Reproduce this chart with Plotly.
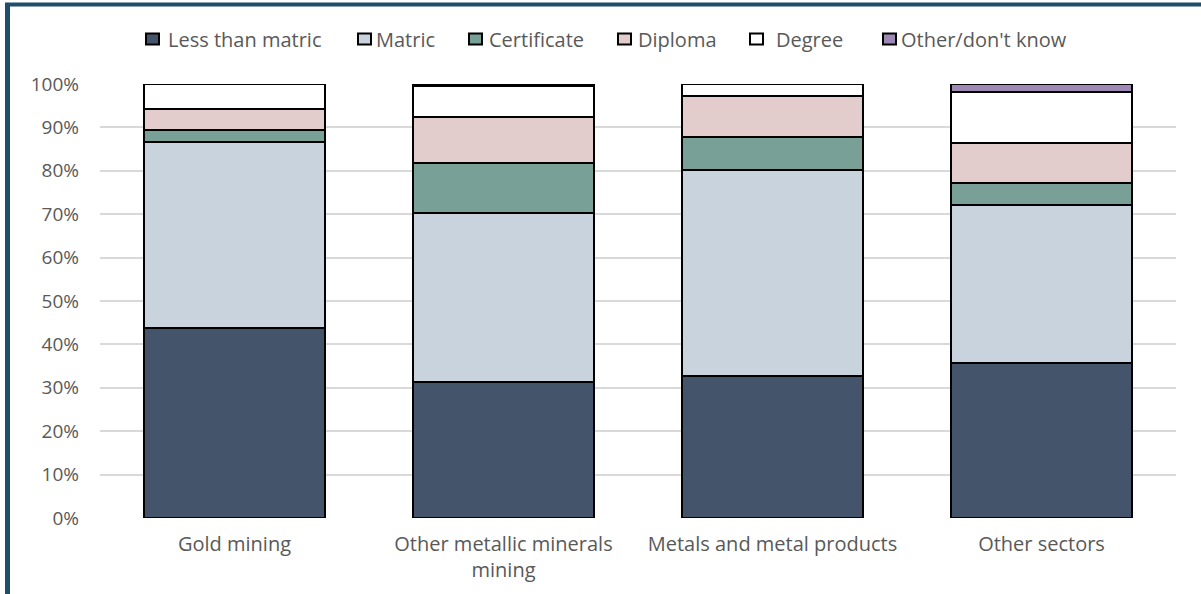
import plotly.graph_objects as go

# Sectors (x categories)
sectors = ["Gold mining", "Other metallic minerals<br>mining",
           "Metals and metal products", "Other sectors"]

# Share of workers by highest qualification, per sector (%)
less_than_matric = [43.8, 31.3, 32.7, 35.7]
matric = [42.8, 38.9, 47.6, 36.5]
certificate = [2.8, 11.5, 7.6, 5.1]
diploma = [4.8, 10.8, 9.3, 9.0]
degree = [5.8, 7.0, 2.8, 11.8]
other_dont_know = [0.0, 0.5, 0.0, 1.9]

series_names = ["Less than matric", "Matric", "Certificate", "Diploma",
                "Degree", "Other/don't know"]
series_values = [less_than_matric, matric, certificate, diploma, degree,
                 other_dont_know]
series_colors = ["#44546A", "#C9D3DE", "#79A096", "#E2CDCC", "#FFFFFF",
                 "#9E89B5"]

y_ticks = [0, 10, 20, 30, 40, 50, 60, 70, 80, 90, 100]

FONT = "Open Sans"
TEXT_GREY = "#595959"

fig = go.Figure()
for name, vals, col in zip(series_names, series_values, series_colors):
    fig.add_trace(go.Bar(
        name=name,
        x=sectors,
        y=vals,
        marker=dict(color=col, line=dict(color="#000000", width=2)),
        showlegend=False,
    ))

# plot-area pixel geometry (for paper-referenced decorations)
W, H = 1201, 594
L, R, T, B = 100, 25, 84, 76
pw, ph = W - L - R, H - T - B


def px(x):
    return (x - L) / pw


def py(y):
    return (H - B - y) / ph


fig.update_layout(
    width=W, height=H,
    barmode="stack",
    bargap=0.327,
    margin=dict(l=L, r=R, t=T, b=B, pad=0),
    paper_bgcolor="white",
    plot_bgcolor="white",
    font=dict(family=FONT, size=20, color=TEXT_GREY),
    showlegend=False,
    xaxis=dict(
        showgrid=False,
        showline=False,
        zeroline=False,
        ticks="",
        ticklabelstandoff=12,
        tickfont=dict(family=FONT, size=20, color=TEXT_GREY),
    ),
    yaxis=dict(
        range=[0, 100],
        tickvals=y_ticks,
        ticktext=[f"{v}%" for v in y_ticks],
        showgrid=True,
        gridcolor="#D9D9D9",
        gridwidth=1.5,
        zeroline=False,
        showline=False,
        ticks="",
        ticklabelstandoff=20,
        tickfont=dict(family=FONT, size=19, color=TEXT_GREY),
    ),
)

# legend row across the top: boxed swatch followed by the series name
legend_box_left = [145, 357, 468, 617, 749, 882]
legend_text_left = [166, 374, 487, 636, 774, 899]
legend_y = 39
for name, col, bx, tx in zip(series_names, series_colors,
                             legend_box_left, legend_text_left):
    fig.add_shape(type="rect", xref="paper", yref="paper",
                  x0=px(bx + 1), x1=px(bx + 14),
                  y0=py(legend_y + 5.5), y1=py(legend_y - 5.5),
                  fillcolor=col, line=dict(color="#000000", width=2),
                  layer="above")
    fig.add_annotation(text=name, xref="paper", yref="paper",
                       x=px(tx), y=py(legend_y), xanchor="left",
                       yanchor="middle", showarrow=False,
                       font=dict(family=FONT, size=20, color=TEXT_GREY))

# dark frame lines along the top and left edges of the figure
frame = "#1F4E6B"
fig.add_shape(type="line", xref="paper", yref="paper",
              x0=px(5), x1=px(1201), y0=py(4.5), y1=py(4.5),
              line=dict(color=frame, width=4), layer="above")
fig.add_shape(type="line", xref="paper", yref="paper",
              x0=px(7.5), x1=px(7.5), y0=py(4.5), y1=py(600),
              line=dict(color=frame, width=5), layer="above")

fig.write_html("out.html")
